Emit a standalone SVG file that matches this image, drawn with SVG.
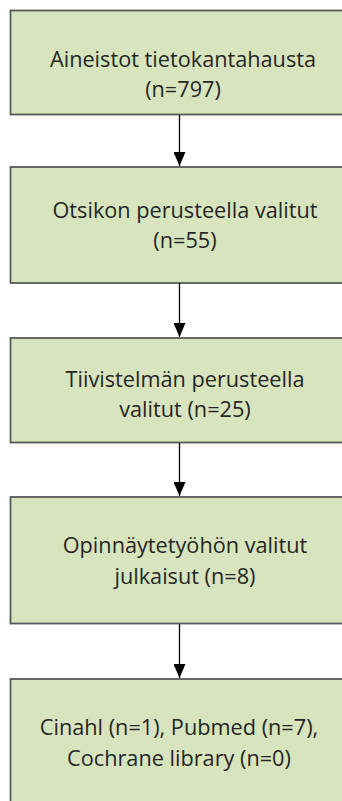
<svg xmlns="http://www.w3.org/2000/svg" width="342" height="801" viewBox="0 0 342 801">
<style>
.box{fill:#d7e4bd;stroke:#595959;stroke-width:1.8}
.t{font-family:"Open Sans","Noto Sans",sans-serif;font-size:21.7px;fill:#262626;text-anchor:middle}
.c{stroke:#000;stroke-width:1.3;fill:none}
</style>
<defs>
<marker id="ah" markerWidth="14" markerHeight="12" refX="14" refY="6" orient="auto" markerUnits="userSpaceOnUse" viewBox="0 0 14 12">
<path d="M0,0 L14,6 L0,12 Z" fill="#000"/>
</marker>
</defs>
<rect x="0" y="0" width="342" height="801" fill="#fff"/>
<g id="n1"><rect class="box" x="10.5" y="10.5" width="346" height="104"/>
<text class="t" x="183" y="67">Aineistot tietokantahausta</text>
<text class="t" x="183" y="97">(n=797)</text></g>
<g id="n2"><rect class="box" x="10.5" y="167" width="346" height="116"/>
<text class="t" x="185" y="218">Otsikon perusteella valitut</text>
<text class="t" x="185" y="248">(n=55)</text></g>
<g id="n3"><rect class="box" x="10.5" y="338" width="346" height="104.5"/>
<text class="t" x="185" y="387">Tiivistelmän perusteella</text>
<text class="t" x="185" y="417">valitut (n=25)</text></g>
<g id="n4"><rect class="box" x="10.5" y="497" width="346" height="126.5"/>
<text class="t" x="185" y="553">Opinnäytetyöhön valitut</text>
<text class="t" x="185" y="584">julkaisut (n=8)</text></g>
<g id="n5"><rect class="box" x="10.5" y="679" width="346" height="140"/>
<text class="t" x="179" y="735">Cinahl (n=1), Pubmed (n=7),</text>
<text class="t" x="179" y="766">Cochrane library (n=0)</text></g>
<g id="connectors">
<line class="c" x1="179.5" y1="115" x2="179.5" y2="166" marker-end="url(#ah)"/>
<line class="c" x1="179.5" y1="283" x2="179.5" y2="337" marker-end="url(#ah)"/>
<line class="c" x1="179.5" y1="443" x2="179.5" y2="496" marker-end="url(#ah)"/>
<line class="c" x1="179.5" y1="624" x2="179.5" y2="678" marker-end="url(#ah)"/>
</g>
</svg>
